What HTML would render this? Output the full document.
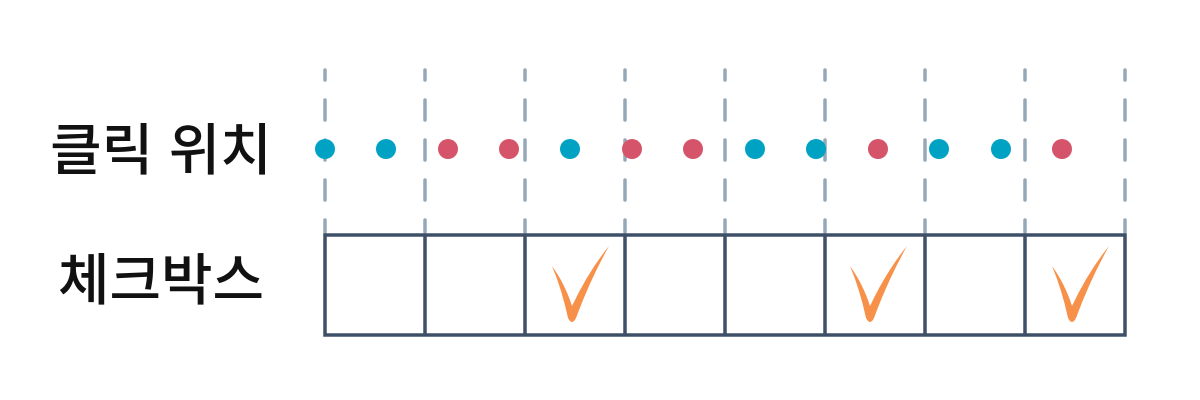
<!DOCTYPE html>
<html><head><meta charset="utf-8"><style>
html,body{margin:0;padding:0;background:#fff;}
svg{display:block}
</style></head><body>
<svg width="1200" height="400" viewBox="0 0 1200 400" xmlns="http://www.w3.org/2000/svg">
<g font-family="Liberation Sans, Noto Sans CJK KR, sans-serif" font-size="56" font-weight="500" fill="#111" text-anchor="middle">
<text x="161" y="170">클릭 위치</text>
<text x="161" y="300">체크박스</text>
</g>
<g stroke="#94a8b8" stroke-width="3.5" stroke-linecap="round" stroke-dasharray="20 20" stroke-dashoffset="10">
<line x1="325" y1="70" x2="325" y2="232"/><line x1="425" y1="70" x2="425" y2="232"/>
<line x1="525" y1="70" x2="525" y2="232"/><line x1="625" y1="70" x2="625" y2="232"/>
<line x1="725" y1="70" x2="725" y2="232"/><line x1="825" y1="70" x2="825" y2="232"/>
<line x1="925" y1="70" x2="925" y2="232"/><line x1="1025" y1="70" x2="1025" y2="232"/>
<line x1="1125" y1="70" x2="1125" y2="232"/>
</g>
<g>
<circle cx="325" cy="149" r="10" fill="#00a2c4"/>
<circle cx="386" cy="149" r="10" fill="#00a2c4"/>
<circle cx="448" cy="149" r="10" fill="#d6546a"/>
<circle cx="509" cy="149" r="10" fill="#d6546a"/>
<circle cx="570" cy="149" r="10" fill="#00a2c4"/>
<circle cx="632" cy="149" r="10" fill="#d6546a"/>
<circle cx="693" cy="149" r="10" fill="#d6546a"/>
<circle cx="755" cy="149" r="10" fill="#00a2c4"/>
<circle cx="816" cy="149" r="10" fill="#00a2c4"/>
<circle cx="878" cy="149" r="10" fill="#d6546a"/>
<circle cx="939" cy="149" r="10" fill="#00a2c4"/>
<circle cx="1001" cy="149" r="10" fill="#00a2c4"/>
<circle cx="1062" cy="149" r="10" fill="#d6546a"/>
</g>
<g stroke="#3d5068" stroke-width="3.5" fill="none">
<rect x="325" y="235" width="800" height="100"/>
<line x1="425" y1="235" x2="425" y2="335"/><line x1="525" y1="235" x2="525" y2="335"/>
<line x1="625" y1="235" x2="625" y2="335"/><line x1="725" y1="235" x2="725" y2="335"/>
<line x1="825" y1="235" x2="825" y2="335"/><line x1="925" y1="235" x2="925" y2="335"/>
<line x1="1025" y1="235" x2="1025" y2="335"/>
</g>
<defs><path id="ck" d="M0,0 Q13,18 20,40 Q36,6 57,-20 Q38,14 24,52 Q20,60 16,52 Q10,24 0,0 Z" fill="#f7914a"/></defs>
<use href="#ck" x="552" y="266"/>
<use href="#ck" x="850" y="266"/>
<use href="#ck" x="1052" y="266"/>
</svg>
</body></html>
